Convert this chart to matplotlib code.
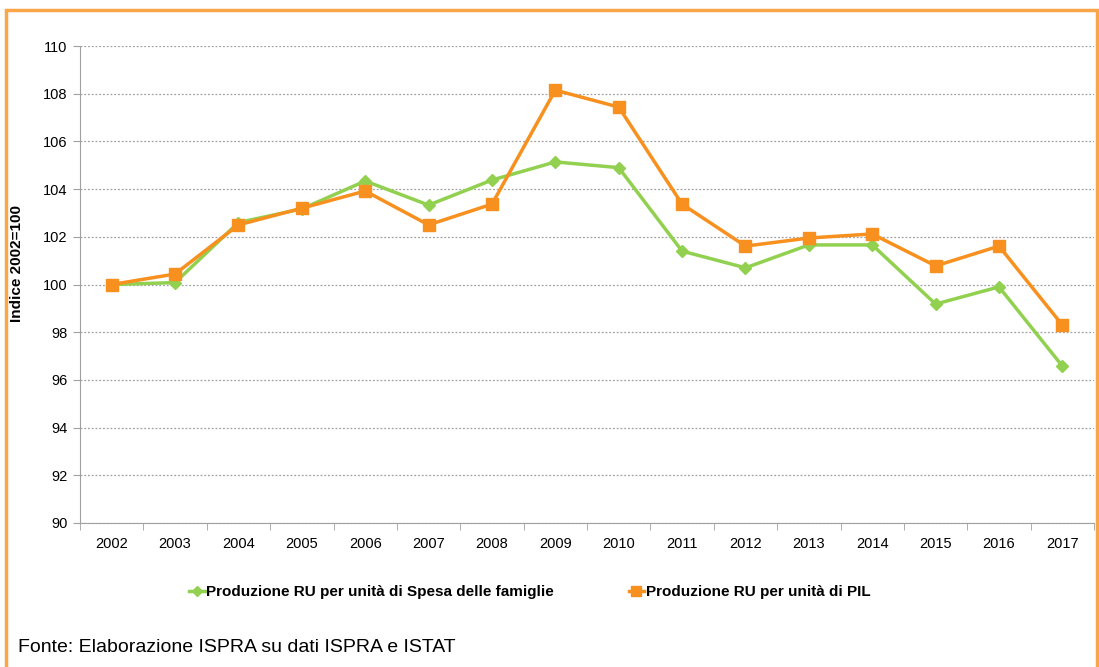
import matplotlib.pyplot as plt
from matplotlib.patches import Rectangle
from matplotlib.lines import Line2D

years = ["2002", "2003", "2004", "2005", "2006", "2007", "2008", "2009",
         "2010", "2011", "2012", "2013", "2014", "2015", "2016", "2017"]
spesa_famiglie = [100.0, 100.08, 102.6, 103.17, 104.34, 103.33, 104.38, 105.14,
                  104.9, 101.4, 100.7, 101.66, 101.66, 99.18, 99.9, 96.58]
pil = [100.0, 100.44, 102.5, 103.2, 103.92, 102.5, 103.37, 108.15,
       107.44, 103.37, 101.61, 101.95, 102.12, 100.78, 101.61, 98.3]
label_spesa = "Produzione RU per unità di Spesa delle famiglie"
label_pil = "Produzione RU per unità di PIL"
source = "Fonte: Elaborazione ISPRA su dati ISPRA e ISTAT"

green = "#92D050"
orange = "#F7901E"

plt.rcParams["font.family"] = ["Liberation Sans", "DejaVu Sans"]

fig = plt.figure(figsize=(10.99, 6.67), dpi=100)
ax = fig.add_axes([0.0728, 0.2159, 0.9227, 0.7151])

x = list(range(len(years)))
ax.plot(x, spesa_famiglie, color=green, lw=2.5, marker="D", ms=6,
        markeredgecolor=green, label=label_spesa, zorder=3)
ax.plot(x, pil, color=orange, lw=2.5, marker="s", ms=8,
        markeredgecolor=orange, label=label_pil, zorder=4)

ax.set_xlim(-0.5, len(years) - 0.5)
ax.set_ylim(90, 110)
ax.set_yticks(range(90, 111, 2))
ax.set_xticks(x)
ax.set_xticklabels(years)
ax.set_xticks([i - 0.5 for i in range(len(years) + 1)], minor=True)
ax.tick_params(axis="x", which="major", length=0, pad=10, labelsize=10.5)
ax.tick_params(axis="x", which="minor", length=5, color="#A0A0A0", direction="out")
ax.tick_params(axis="y", length=5, color="#A0A0A0", labelsize=10.5, pad=4)
ax.grid(axis="y", color="#A0A0A0", linestyle=(0, (1.5, 1.5)), lw=0.9)
ax.set_axisbelow(True)
for s in ["top", "right"]:
    ax.spines[s].set_visible(False)
ax.spines["left"].set_color("#A0A0A0")
ax.spines["bottom"].set_color("#A0A0A0")
ax.set_ylabel("Indice 2002=100", fontsize=11, fontweight="bold")
ax.yaxis.set_label_coords(-0.055, 0.545)

handles = [
    Line2D([], [], color=green, lw=2.5, marker="D", ms=5),
    Line2D([], [], color=orange, lw=2.5, marker="s", ms=7),
]
fig.legend(handles, [label_spesa, label_pil], loc="center", ncol=2,
           bbox_to_anchor=(0.482, 0.112), frameon=False, handlelength=1.0,
           handletextpad=0.1, columnspacing=4.9,
           prop={"weight": "bold", "size": 11})

fig.text(18 / 1099, 1 - 647 / 667, source, fontsize=14, va="center",
         family=["Liberation Sans Narrow", "Liberation Sans", "DejaVu Sans"])

fig.patches.append(Rectangle((6 / 1099, -0.05), 1091 / 1099, 1.05 - 10 / 667,
                             transform=fig.transFigure, fill=False,
                             edgecolor="#F9A54A", lw=2.5))

fig.savefig("out.png", dpi=100)
